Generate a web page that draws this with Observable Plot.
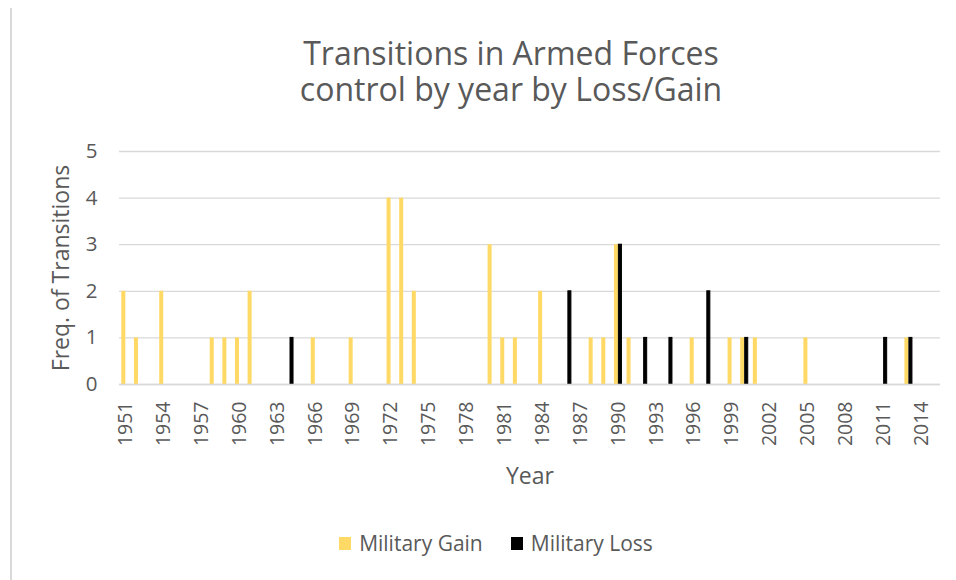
<!DOCTYPE html>
<html>
<head>
<meta charset="utf-8">
<script src="https://cdn.jsdelivr.net/npm/d3@7"></script>
<script src="https://cdn.jsdelivr.net/npm/@observablehq/plot@0.6"></script>
<style>
  html, body { margin: 0; padding: 0; background: #fff; }
  body { width: 956px; height: 580px; position: relative; overflow: hidden; font-family: "Open Sans", sans-serif; color: #595959; }
  #frame { position: absolute; left: 10px; top: 8px; width: 2px; height: 580px; background: #d9d9d9; }
  #title { box-sizing: border-box; width: 956px; height: 115px; padding-top: 35px; padding-left: 66px; text-align: center; font-size: 32px; line-height: 36px; white-space: pre-line; }
  #chart { height: 385px; }
  #legend { box-sizing: border-box; width: 956px; padding-left: 36px; margin-top: 31px; display: flex; justify-content: center; align-items: center; font-size: 21px; line-height: 25px; }
  .item { display: flex; align-items: center; margin: 0 14px; }
  .sw { width: 12px; height: 13px; margin-right: 8px; }
</style>
</head>
<body>
<div id="frame"></div>
<div id="title"></div>
<div id="chart"></div>
<div id="legend"></div>
<script>
// Data
const titleLines = ["Transitions in Armed Forces", "control by year by Loss/Gain"];
const seriesNames = ["Military Gain", "Military Loss"];
const seriesColors = ["#FFD966", "#000000"];

const gainYears  = [1951, 1952, 1954, 1958, 1959, 1960, 1961, 1966, 1969, 1972, 1973, 1974, 1980, 1981, 1982, 1984, 1988, 1989, 1990, 1991, 1996, 1999, 2000, 2001, 2005, 2013];
const gainValues = [2,    1,    2,    1,    1,    1,    2,    1,    1,    4,    4,    2,    3,    1,    1,    2,    1,    1,    3,    1,    1,    1,    1,    1,    1,    1];

const lossYears  = [1964, 1986, 1990, 1992, 1994, 1997, 2000, 2011, 2013];
const lossValues = [1,    2,    3,    1,    1,    2,    1,    1,    1];

const firstYear = 1951, lastYear = 2015;
const xTickYears = [1951, 1954, 1957, 1960, 1963, 1966, 1969, 1972, 1975, 1978, 1981, 1984, 1987, 1990, 1993, 1996, 1999, 2002, 2005, 2008, 2011, 2014];
const yTicks = [0, 1, 2, 3, 4, 5];

document.getElementById("title").textContent = titleLines.join("\n");

const allYears = d3.range(firstYear, lastYear + 1);
const gain = gainYears.map((y, i) => ({year: y, value: gainValues[i]}));
const loss = lossYears.map((y, i) => ({year: y, value: lossValues[i]}));

const chart = Plot.plot({
  width: 956,
  height: 385,
  marginLeft: 119,
  marginRight: 16,
  marginTop: 36,
  marginBottom: 116,
  style: {fontFamily: "'Open Sans', sans-serif", fontSize: "20px", color: "#595959", background: "white", overflow: "visible"},
  x: {type: "band", domain: allYears, padding: 0},
  y: {domain: [0, 5]},
  marks: [
    Plot.gridY(yTicks, {stroke: "#d9d9d9", strokeOpacity: 1, strokeWidth: 1.3}),
    Plot.barY(gain, {x: "year", y: "value", fill: seriesColors[0], insetLeft: 4.3, insetRight: 4.3, dx: -2}),
    Plot.barY(loss, {x: "year", y: "value", fill: seriesColors[1], stroke: seriesColors[1], strokeWidth: 1, insetLeft: 4.8, insetRight: 4.8, dx: 2}),
    Plot.ruleY([0], {stroke: "#d9d9d9", strokeWidth: 1.3}),
    Plot.axisX({ticks: xTickYears, tickFormat: d => String(d), tickSize: 0, tickRotate: -90, tickPadding: 17, fontSize: 19.5,
      label: "Year", labelAnchor: "center", labelOffset: 99, labelArrow: "none"}),
    Plot.axisY({ticks: yTicks, tickFormat: d3.format("d"), tickSize: 0, tickPadding: 22, fontSize: 20.5,
      label: "Freq. of Transitions", labelAnchor: "center", labelOffset: 67, labelArrow: "none"})
  ]
});
chart.querySelectorAll("[aria-label='x-axis label'] text, [aria-label='y-axis label'] text").forEach(t => t.setAttribute("font-size", "23"));
document.getElementById("chart").append(chart);

const legend = document.getElementById("legend");
seriesNames.forEach((name, i) => {
  const item = document.createElement("div");
  item.className = "item";
  const sw = document.createElement("span");
  sw.className = "sw";
  sw.style.background = seriesColors[i];
  item.append(sw, document.createTextNode(name));
  legend.append(item);
});
</script>
</body>
</html>
